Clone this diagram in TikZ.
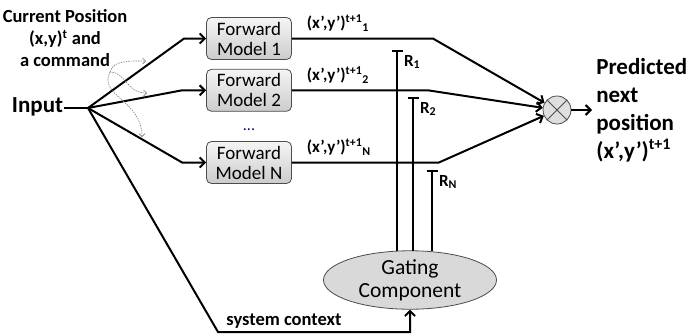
\documentclass[tikz,border=0pt]{standalone}
\usepackage{fontspec}
\setmainfont{Carlito}
\usetikzlibrary{arrows.meta,positioning,shapes.geometric}

\begin{document}
\begin{tikzpicture}[
    x = 1pt, y = -1pt, % pixel-like coordinates
    > = {Straight Barb[length=5pt,width=10pt]}, % arrow head style
    line width = 2pt, % line style
    node distance = 9pt
    ]

    \tikzset{
    model/.style = {
        draw = gray!60!black,
        line width = 0.8pt,
        rounded corners = 5pt,
        top color = gray!8,
        bottom color = gray!40,
        minimum width = 85pt,
        minimum height = 42pt,
        align = center,
        inner sep = 1pt,
        font = \fontsize{19}{20}\selectfont
    },
    bigtext/.style = {font = \fontsize{23}{28}\selectfont\bfseries, align = left},
    smalltext/.style = {font = \fontsize{18.5}{22}\selectfont\bfseries, align = center},
    olabel/.style = {font = \fontsize{17}{18}\selectfont\bfseries, inner sep = 0pt},
    rlabel/.style = {font = \fontsize{17}{18}\selectfont\bfseries, inner sep = 0pt, anchor = north west},
    cmdarrow/.style = {gray, line width = 0.6pt, dash pattern = on 1.5pt off 1pt,
        -{Straight Barb[length=3pt,width=6pt]}},
    rline/.style = {-{Bar[width=11pt]}}
    }

    \useasboundingbox (0,0) rectangle (699,335);

    % input side
    \node[bigtext, anchor = base west, inner sep = 0pt] (input) at (11,112) {Input};
    \coordinate (jn) at (88,108);
    \node[smalltext] (cmd) at (65,38) {Current Position\\(x,y)\textsuperscript{t} and\\a command};

    % forward models
    \node[model] (m1) at (249,38.5) {Forward\\Model 1};
    \node[model] (m2) [below=of m1] {Forward\\Model 2};
    \node[model] (mN) at (249,162.5) {Forward\\Model N};
    \node[font = \fontsize{16}{16}\selectfont, text = blue!40!black] (dots) at (249,130) {...};

    % gating and mixing
    \node[ellipse, draw = gray!60!black, line width = 0.8pt, fill = gray!30,
        minimum width = 173pt, minimum height = 50pt, inner sep = 0pt, align = center,
        font = \fontsize{21.5}{23}\selectfont] (gate) at (410,280) {Gating\\Component};
    \node[circle, draw = gray!60!black, line width = 0.8pt, fill = gray!25,
        minimum size = 28pt, inner sep = 0pt] (mix) at (557,110) {};
    \draw[gray!60!black, line width = 0.8pt] (mix.north west) -- (mix.south east)
        (mix.north east) -- (mix.south west);
    \node[bigtext, anchor = west] (pred) at (592,110)
        {Predicted\\next\\position\\(x’,y’)\textsuperscript{t+1}};

    % input connectors
    \draw (input.east |- jn) -- (jn);
    \draw[->] (jn) -- ([xshift=-22pt]m1.west) -- (m1.west);
    \draw[->] (jn) -- ([xshift=-24pt]m2.west) -- (m2.west);
    \draw[->] (jn) -- ([xshift=-24pt]mN.west) -- (mN.west);

    % command arrows
    \coordinate (cs) at (110,72);
    \draw[cmdarrow] (cs) .. controls (113,60) and (130,61) .. (146,61);
    \draw[cmdarrow] (cs) .. controls (126,72) and (126,93) .. (147,93);
    \draw[cmdarrow] (cs) .. controls (98,96) and (142,100) .. (142,137);

    % responsibility signals
    \coordinate (r1) at (397,50);
    \coordinate (r2) at (413,97);
    \coordinate (rN) at (432,170);
    \draw[rline] (r1 |- gate.north) ++(0,1) -- (r1);
    \draw[rline] (r2 |- gate.north) ++(0,1) -- (r2);
    \draw[rline] (rN |- gate.north) ++(0,1) -- (rN);
    \node[rlabel] (lr1) at ([xshift=6pt,yshift=-4pt]r1) {R\textsubscript{1}};
    \node[rlabel] (lr2) at ([xshift=6pt,yshift=-4pt]r2) {R\textsubscript{2}};
    \node[rlabel] (lrN) at ([xshift=6pt,yshift=-4pt]rN) {R\textsubscript{N}};

    % model outputs
    \draw[->] (m1.east) -- ([xshift=141pt]m1.east) -- (mix);
    \draw[->] (m2.east) -- ([xshift=136pt]m2.east) -- (mix);
    \draw[->] (mN.east) -- ([xshift=147pt]mN.east) -- (mix);
    \node[olabel, anchor = south west] (o1) at ([xshift=14pt,yshift=6pt]m1.east) {(x’,y’)\textsuperscript{t+1}\textsubscript{1}};
    \node[olabel, anchor = south west] (o2) at ([xshift=14pt,yshift=6pt]m2.east) {(x’,y’)\textsuperscript{t+1}\textsubscript{2}};
    \node[olabel, anchor = south west] (oN) at ([xshift=14pt,yshift=6pt]mN.east) {(x’,y’)\textsuperscript{t+1}\textsubscript{N}};

    \draw[->] (mix) -- (pred.west);

    % system context
    \coordinate (ctx) at (218,332);
    \draw[->] (jn) -- (ctx) -- (ctx -| gate.south)
        node[smalltext, above, midway, xshift=-30pt, yshift=-1pt] {system context} -- (gate.south);
\end{tikzpicture}
\end{document}
